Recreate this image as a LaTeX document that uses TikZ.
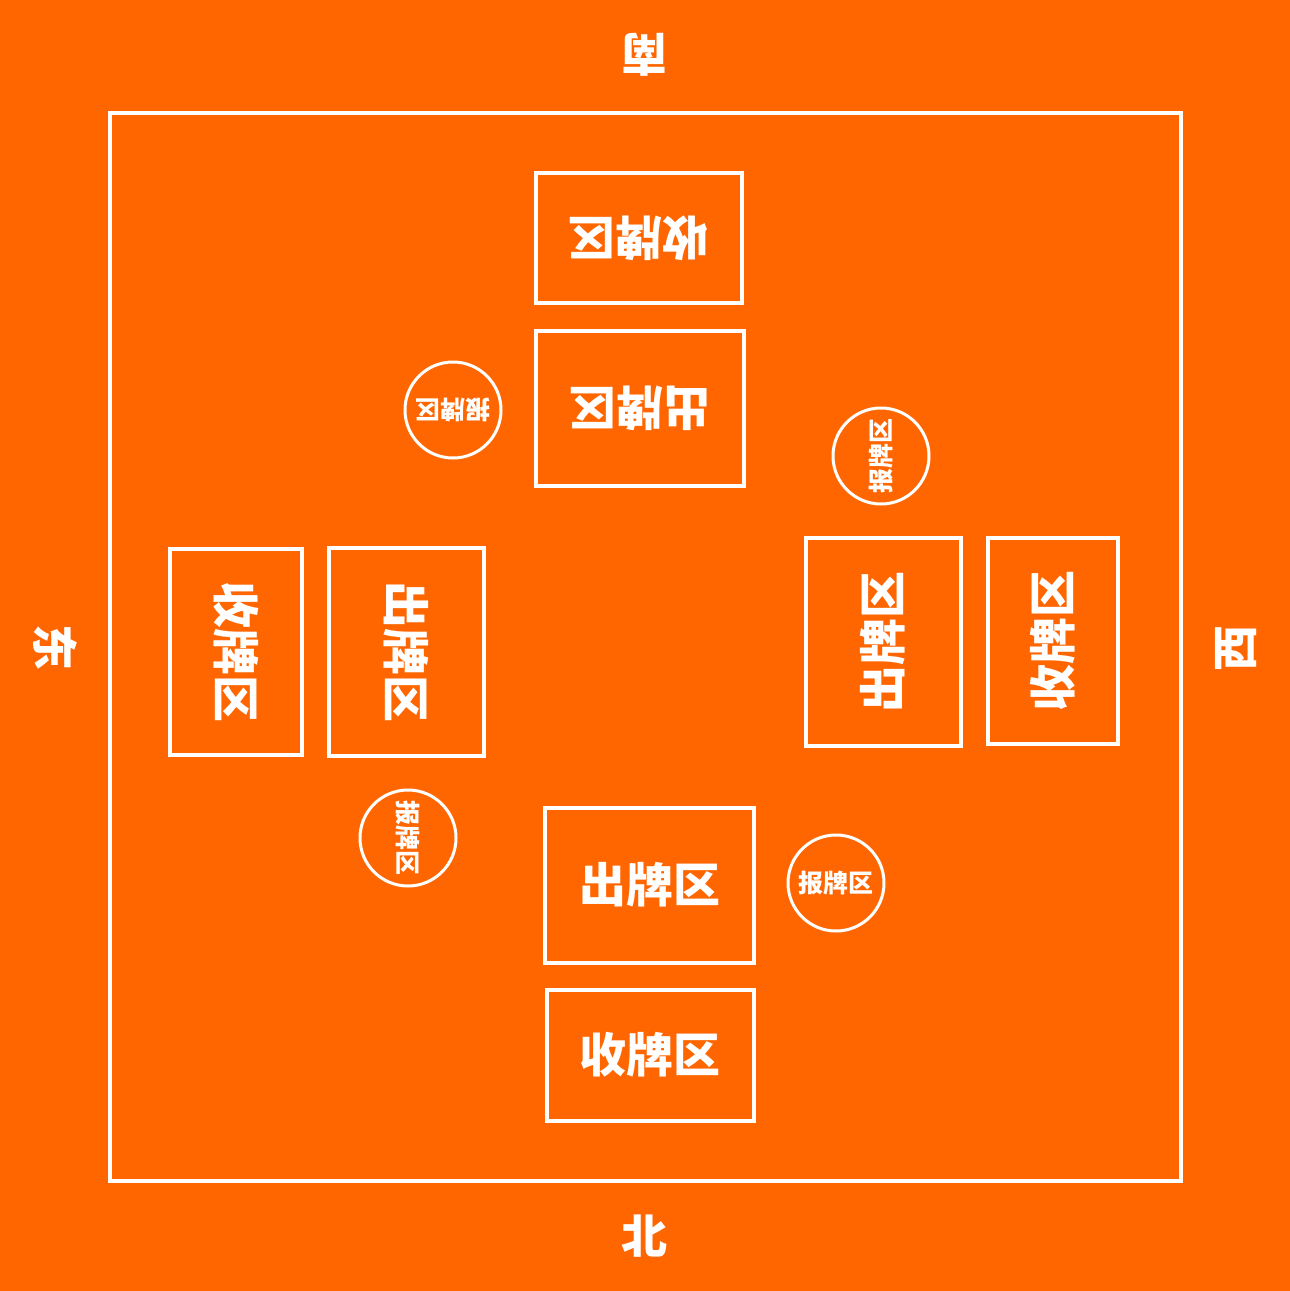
\documentclass[tikz,border=0pt]{standalone}
\usepackage{fontspec}
\newfontfamily\cjk{Noto Sans CJK SC}
\definecolor{bg}{RGB}{255,102,0}
\tikzset{
  zone/.style={draw=white, line width=4pt, inner sep=0pt},
  zonetext/.style={text=white, font=\cjk\bfseries\fontsize{47}{47}\selectfont, inner sep=0pt},
  callout/.style={draw=white, line width=3pt, circle, minimum size=96pt, inner sep=0pt,
                  text=white, font=\cjk\bfseries\fontsize{25}{25}\selectfont},
  seat/.style={text=white, font=\cjk\bfseries\fontsize{46}{46}\selectfont, inner sep=0pt}
}
\begin{document}
\begin{tikzpicture}[x=1pt,y=-1pt]
\fill[bg] (0,0) rectangle (1290,1291);
\useasboundingbox (0,0) rectangle (1290,1291);
% outer table frame
\draw[white, line width=4pt] (110,113) rectangle (1181,1181);
% seat labels
\node[seat, rotate=180] (south) at (644,55) {南};
\node[seat] (north) at (644,1236) {北};
\node[seat, rotate=-90] (east) at (55,647) {东};
\node[seat, rotate=90] (west) at (1236,648) {西};
% south zones
\draw[zone] (536,173) rectangle (742,303);
\node[zonetext, rotate=180] (sshou) at (639,238) {收牌区};
\draw[zone] (536,331) rectangle (744,486);
\node[zonetext, rotate=180] (schu) at (640,408) {出牌区};
\node[callout, rotate=180] (sbao) at (453,410) {报牌区};
% east zones
\draw[zone] (170,549) rectangle (302,755);
\node[zonetext, rotate=-90] (eshou) at (236,652) {收牌区};
\draw[zone] (329,548) rectangle (484,756);
\node[zonetext, rotate=-90] (echu) at (406,652) {出牌区};
\node[callout, rotate=-90] (ebao) at (408,838) {报牌区};
% west zones
\draw[zone] (806,538) rectangle (961,746);
\node[zonetext, rotate=90] (wchu) at (883,642) {出牌区};
\draw[zone] (988,538) rectangle (1118,744);
\node[zonetext, rotate=90] (wshou) at (1053,641) {收牌区};
\node[callout, rotate=90] (wbao) at (881,456) {报牌区};
% north zones
\draw[zone] (545,808) rectangle (754,963);
\node[zonetext] (nchu) at (650,885) {出牌区};
\draw[zone] (547,990) rectangle (754,1121);
\node[zonetext] (nshou) at (650,1055) {收牌区};
\node[callout] (nbao) at (836,883) {报牌区};
\end{tikzpicture}
\end{document}
